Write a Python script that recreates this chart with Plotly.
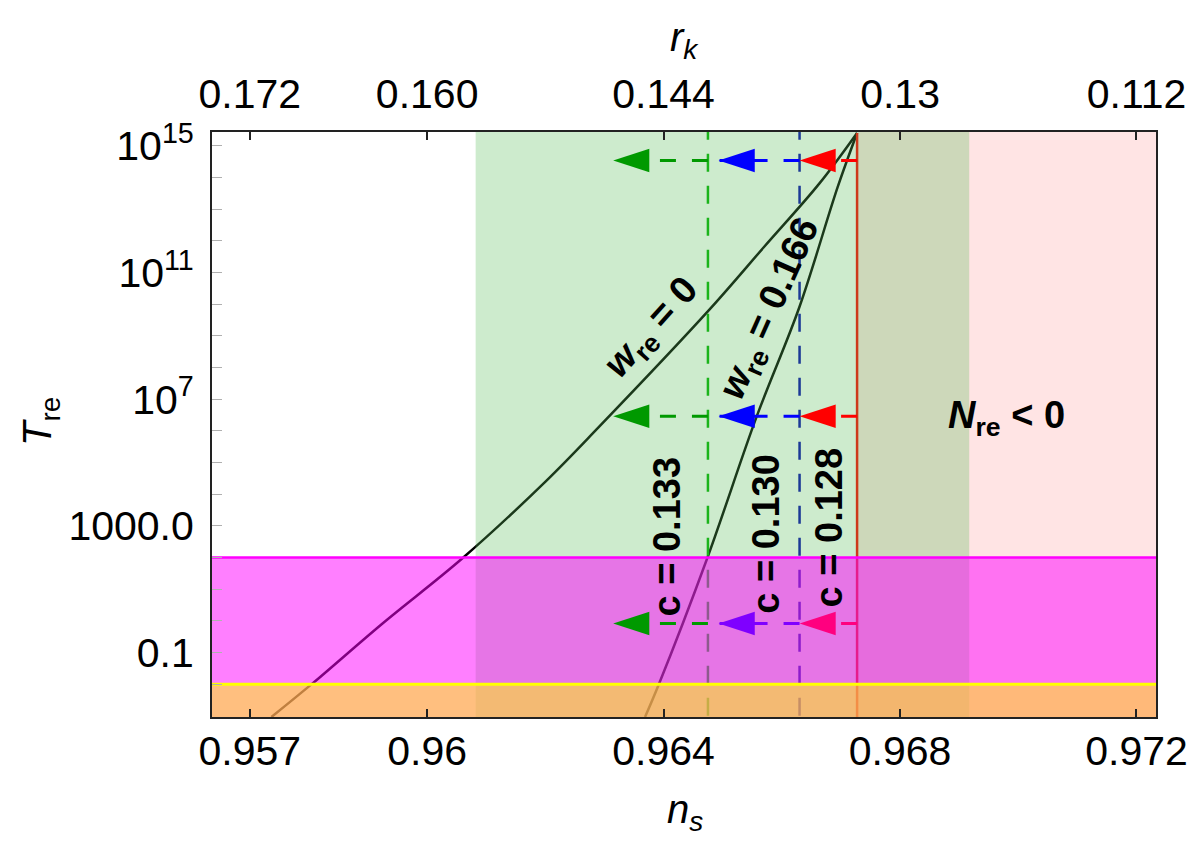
import plotly.graph_objects as go

# ---------------- data ----------------
# reheating curves: n_s vs log10(T_re)
ns_w0 = [0.967273, 0.966633, 0.965698, 0.964763, 0.962894, 0.961997, 0.960592, 0.95925, 0.958061, 0.957365]
logT_w0 = [15.40, 13.80, 11.80, 9.80, 6.10, 4.39, 1.97, -0.07, -1.97, -3.03]

ns_w166 = [0.967273, 0.966944, 0.966296, 0.965572, 0.964738, 0.963913, 0.963686]
logT_w166 = [15.40, 13.69, 9.90, 6.44, 1.98, -2.03, -3.03]

ns_nre0 = 0.967273      # N_re = 0 (c = 0.128)
ns_c130 = 0.96630       # c = 0.130
ns_c133 = 0.96475       # c = 0.133
green_band = [0.96082, 0.96917]
logT_ew = 2.0           # electroweak scale (magenta)
logT_bbn = -2.0         # BBN (yellow)

x_range = [0.95636, 0.97233]
logT_range = [-3.03, 15.43]

x_ticks = [0.957, 0.96, 0.964, 0.968, 0.972]
x_ticktext = ["0.957", "0.96", "0.964", "0.968", "0.972"]
rk_ticktext = ["0.172", "0.160", "0.144", "0.13", "0.112"]

y_tickvals = [1e15, 1e11, 1e7, 1e3, 1e-1]
y_ticktext = ["10<sup>15</sup>", "10<sup>11</sup>", "10<sup>7</sup>", "1000.0", "0.1"]

arrow_rows = [14.53, 6.46, -0.08]
arrow_tails = [ns_nre0, ns_c130, ns_c133]
arrow_tips = [0.96630, 0.96493, 0.963147]
arrow_colors = [["#ff0000", "#0000ff", "#009900"],
                ["#ff0000", "#0000ff", "#009900"],
                ["#ff007f", "#7f00ff", "#009900"]]

FONT = "Liberation Sans, Arial, Helvetica, sans-serif"
LO, HI = 10 ** -4, 10 ** 16

fig = go.Figure()


def line_trace(x, y, color, width=2.5, dash=None, shape="linear"):
    fig.add_trace(go.Scatter(x=x, y=y, mode="lines",
                             line=dict(color=color, width=width, dash=dash, shape=shape),
                             showlegend=False, hoverinfo="skip"))


def band(x0, x1, y0, y1, color):
    fig.add_trace(go.Scatter(x=[x0, x1, x1, x0, x0], y=[y0, y0, y1, y1, y0],
                             mode="lines", fill="toself", fillcolor=color,
                             line=dict(width=0, color=color),
                             showlegend=False, hoverinfo="skip"))


# curves and vertical lines (under the translucent bands)
line_trace(ns_w0, [10 ** v for v in logT_w0], "black", 2.5, shape="spline")
line_trace(ns_w166, [10 ** v for v in logT_w166], "black", 2.5, shape="spline")
line_trace([ns_nre0, ns_nre0], [LO, 10 ** logT_w0[0]], "#ff0000", 2.5)
line_trace([ns_c133, ns_c133], [LO, HI], "#00b000", 2.5, dash="18px,14px")
line_trace([ns_c130, ns_c130], [LO, HI], "#0000b0", 2.5, dash="18px,14px")

# translucent regions
band(ns_nre0, 0.9735, LO, HI, "rgba(255,0,0,0.106)")
band(green_band[0], green_band[1], LO, HI, "rgba(90,190,90,0.30)")
band(0.955, 0.9735, LO, 10 ** logT_ew, "rgba(255,0,255,0.5)")
band(0.955, 0.9735, LO, 10 ** logT_bbn, "rgba(255,255,0,0.5)")
line_trace([0.955, 0.9735], [10 ** logT_ew] * 2, "#ff00ff", 2.5)
line_trace([0.955, 0.9735], [10 ** logT_bbn] * 2, "#ffff00", 3)

# arrows
for r, row in enumerate(arrow_rows):
    for k in range(3):
        c = arrow_colors[r][k]
        line_trace([arrow_tails[k], arrow_tips[k]], [10 ** row] * 2, c, 3, dash="16px,16px")
        fig.add_trace(go.Scatter(x=[arrow_tips[k]], y=[10 ** row], mode="markers",
                                 marker=dict(symbol="arrow", angle=-90, size=38, color=c,
                                             line=dict(width=0)),
                                 showlegend=False, hoverinfo="skip"))

# dummy trace for the top axis
fig.add_trace(go.Scatter(x=[x_ticks[0]], y=[1], xaxis="x2", mode="markers",
                         marker=dict(opacity=0), showlegend=False, hoverinfo="skip"))

# text labels
lab_font = dict(family=FONT, size=38, color="black")
labels = [
    ("<b><i>w</i><sub>re</sub> = 0</b>", 0.963820, 9.233, -48),
    ("<b><i>w</i><sub>re</sub> = 0.166</b>", 0.965816, 9.849, -66),
    ("<b>c = 0.133</b>", 0.964060, 2.672, -90),
    ("<b>c = 0.130</b>", 0.965740, 2.767, -90),
    ("<b>c = 0.128</b>", 0.966800, 2.956, -90),
    ("<b><i>N</i><sub>re</sub> < 0</b>", 0.969799, 6.394, 0),
]
for txt, x, y, ang in labels:
    fig.add_annotation(x=x, y=y, xref="x", yref="y", text=txt, showarrow=False,
                       textangle=ang, font=lab_font, xanchor="center", yanchor="middle")

title_font = dict(family=FONT, size=40, color="black")
fig.add_annotation(x=0.501, y=-0.162, xref="paper", yref="paper", text="<i>n<sub>s</sub></i>",
                   showarrow=False, font=title_font, xanchor="center", yanchor="middle")
fig.add_annotation(x=0.501, y=1.1568, xref="paper", yref="paper", text="<i>r<sub>k</sub></i>",
                   showarrow=False, font=title_font, xanchor="center", yanchor="middle")
fig.add_annotation(x=-0.1814, y=0.5055, xref="paper", yref="paper", text="<i>T</i><sub>re</sub>",
                   showarrow=False, font=title_font, xanchor="center", yanchor="middle",
                   textangle=-90)

tick_font = dict(family=FONT, size=41, color="black")
fig.update_layout(
    width=1200, height=850,
    margin=dict(l=212, r=40, t=132, b=133),
    paper_bgcolor="white", plot_bgcolor="white",
    showlegend=False,
    font=dict(family=FONT, color="black"),
    xaxis=dict(range=x_range, tickmode="array", tickvals=x_ticks, ticktext=x_ticktext,
               ticks="inside", ticklen=8, tickwidth=2, tickcolor="#222",
               showline=True, linewidth=2, linecolor="#222", mirror=True,
               showgrid=False, zeroline=False, tickfont=tick_font, ticklabelstandoff=-3),
    xaxis2=dict(range=x_range, overlaying="x", side="top", tickmode="array",
                tickvals=x_ticks, ticktext=rk_ticktext,
                ticks="inside", ticklen=8, tickwidth=2, tickcolor="#222",
                showline=True, linewidth=2, linecolor="#222",
                showgrid=False, zeroline=False, tickfont=tick_font, ticklabelstandoff=6),
    yaxis=dict(type="log", range=logT_range, tickmode="array",
               tickvals=y_tickvals, ticktext=y_ticktext,
               ticks="inside", ticklen=10, tickwidth=1, tickcolor="#b0b0b0",
               minor=dict(ticks="inside", dtick=1, tick0=0, ticklen=10, tickwidth=1,
                          tickcolor="#b0b0b0", showgrid=False),
               showline=True, linewidth=2, linecolor="#222", mirror=True,
               showgrid=False, zeroline=False, tickfont=tick_font, ticklabelstandoff=8),
)

fig.write_html("out.html")
